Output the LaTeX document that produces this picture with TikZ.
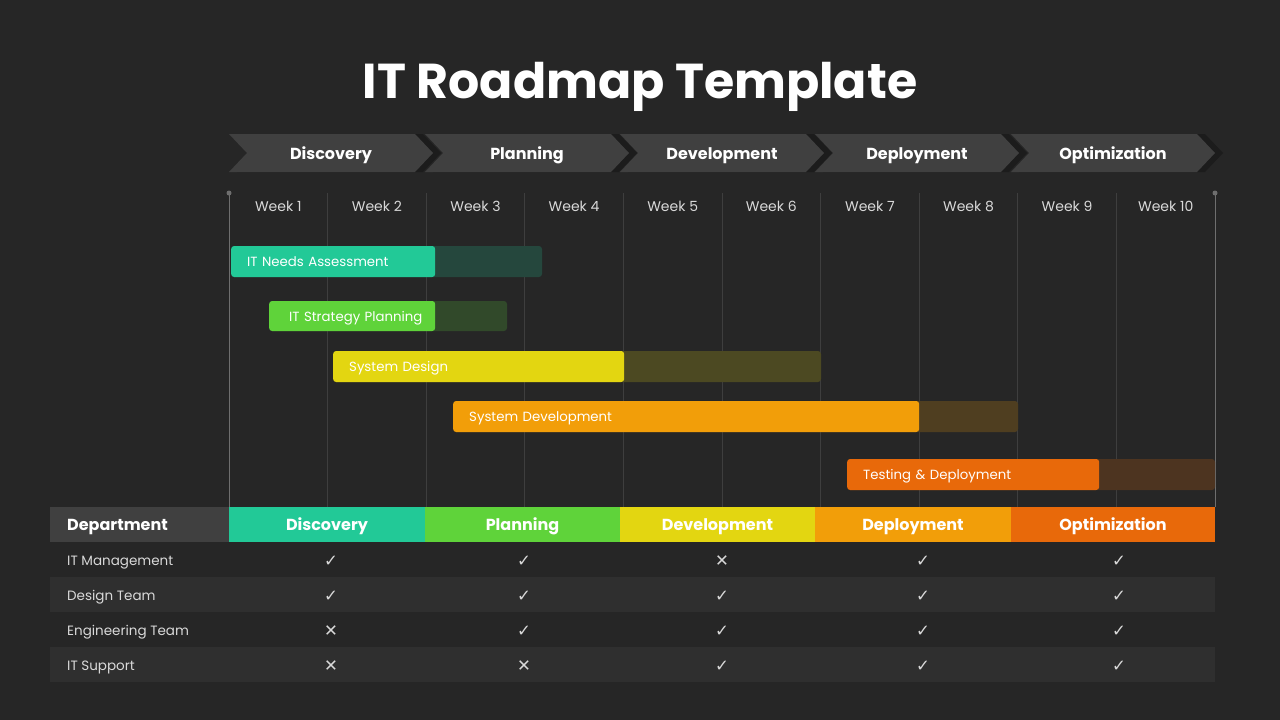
\documentclass[tikz,border=0pt]{standalone}
\usepackage{fontspec}
\setmainfont{Poppins}
\newfontfamily\symfont{DejaVu Sans}
\usetikzlibrary{positioning}
\definecolor{bgdark}{HTML}{262626}
\definecolor{chevgrey}{HTML}{404040}
\definecolor{chevshadow}{HTML}{1C1C1C}
\definecolor{rowgrey}{HTML}{2F2F2F}
\definecolor{deptgrey}{HTML}{404040}
\definecolor{gridgrey}{HTML}{3E3E3E}
\definecolor{edgegrey}{HTML}{6E6E6E}
\definecolor{softtext}{HTML}{D9D9D9}
\definecolor{teal}{HTML}{22C997}
\definecolor{leaf}{HTML}{5FD33A}
\definecolor{lemon}{HTML}{E3D611}
\definecolor{amber}{HTML}{F29E09}
\definecolor{rust}{HTML}{E8690A}
\newcommand{\yesmark}{{\symfont ✓}}
\newcommand{\nomark}{{\symfont ✕}}
\tikzset{
  title/.style={font=\fontsize{49}{56}\selectfont\bfseries, text=white,
                text height=41pt, text depth=10pt, inner sep=0pt},
  phaselbl/.style={font=\fontsize{16}{19}\selectfont\bfseries, text=white,
                   text height=16pt, text depth=3pt, inner sep=0pt},
  weeklbl/.style={font=\fontsize{14}{16}\selectfont, text=softtext,
                  text height=13pt, text depth=2.5pt, inner sep=0pt},
  gridline/.style={draw=gridgrey, line width=0.8pt},
  edgeline/.style={draw=edgegrey, line width=1pt},
  bar/.style={rounded corners=3pt, anchor=west, minimum height=31pt, inner xsep=16pt,
              inner ysep=0pt, align=left, font=\fontsize{13.3}{15}\selectfont, text=white,
              text height=13pt, text depth=2.5pt},
  ghost/.style={rounded corners=3pt},
  hdrcell/.style={minimum height=35pt, inner sep=0pt, font=\fontsize{16}{19}\selectfont\bfseries,
                  text=white, text height=14pt, text depth=3pt},
  rowlbl/.style={anchor=west, inner sep=0pt, font=\fontsize{13.5}{16}\selectfont, text=softtext,
                 text height=14pt, text depth=2.5pt},
  tick/.style={font=\fontsize{16.5}{19}\selectfont, text=softtext, inner sep=0pt, yshift=-1.5pt},
}
\begin{document}
\begin{tikzpicture}[x=1pt, y=-1pt]
    \fill[bgdark] (0,0) rectangle (1280,720);
    \useasboundingbox (0,0) rectangle (1280,720);

    \node[title] (ttl) at (640,83) {IT Roadmap Template};

    % phase chevrons
    \foreach \x/\nm/\lbl in {229/disc/Discovery, 425/plan/Planning, 620/dev/Development,
                             815/dep/Deployment, 1011/opt/Optimization} {
      \fill[chevshadow] (\x+8,134) -- ++(186,0) -- ++(18,19) -- ++(-18,19) -- ++(-186,0)
        -- ++(18,-19) -- cycle;
      \fill[chevgrey] (\x,134) -- ++(186,0) -- ++(18,19) -- ++(-18,19) -- ++(-186,0)
        -- ++(18,-19) -- cycle;
      \node[phaselbl] (ph-\nm) at (\x+102,153) {\lbl};
    }

    % week grid
    \foreach \i in {1,...,9}
      \draw[gridline] (229+98.6*\i,193) -- (229+98.6*\i,507);
    \draw[edgeline] (229,193) -- (229,507);
    \draw[edgeline] (1215,193) -- (1215,507);
    \fill[edgegrey] (229,193) circle (2.5);
    \fill[edgegrey] (1215,193) circle (2.5);
    \foreach \i in {1,...,10}
      \node[weeklbl] (wk\i) at (229+98.6*\i-49.3,206) {Week \i};

    % task bars
    \fill[ghost, teal!20!bgdark] (231,246) rectangle (542,277);
    \node[bar, fill=teal, text width=172pt] (b-assess) at (231,261.5) {IT Needs Assessment};
    \fill[ghost, leaf!20!bgdark] (269,301) rectangle (507,331);
    \node[bar, fill=leaf, minimum height=30pt, inner xsep=20pt, text width=126pt]
      (b-strat) at (269,316) {\mbox{IT Strategy Planning}};
    \fill[ghost, lemon!20!bgdark] (333,351) rectangle (821,382);
    \node[bar, fill=lemon, text width=259pt] (b-design) at (333,366.5) {System Design};
    \fill[ghost, amber!20!bgdark] (453,401) rectangle (1018,432);
    \node[bar, fill=amber, text width=434pt] (b-build) at (453,416.5) {System Development};
    \fill[ghost, rust!20!bgdark] (847,459) rectangle (1215,490);
    \node[bar, fill=rust, text width=220pt] (b-test) at (847,474.5) {Testing \& Deployment};

    % department table
    \fill[rowgrey] (50,577) rectangle (1215,612);
    \fill[rowgrey] (50,647) rectangle (1215,682);
    \node[hdrcell, fill=deptgrey, anchor=west, minimum width=179pt, text width=179pt, align=left]
      (h-dept) at (50,524.5) {\hspace*{17pt}Department};
    \node[hdrcell, fill=teal, minimum width=196pt] (h-disc) at (327,524.5) {Discovery};
    \node[hdrcell, fill=leaf, minimum width=195pt] (h-plan) at (522.5,524.5) {Planning};
    \node[hdrcell, fill=lemon, minimum width=195pt] (h-dev) at (717.5,524.5) {Development};
    \node[hdrcell, fill=amber, minimum width=196pt] (h-dep) at (913,524.5) {Deployment};
    \node[hdrcell, fill=rust, minimum width=204pt] (h-opt) at (1113,524.5) {Optimization};

    \foreach \y/\lbl/\a/\b/\c/\d/\e [count=\r] in {
        560/IT Management/\yesmark/\yesmark/\nomark/\yesmark/\yesmark,
        594.5/Design Team/\yesmark/\yesmark/\yesmark/\yesmark/\yesmark,
        629.5/Engineering Team/\nomark/\yesmark/\yesmark/\yesmark/\yesmark,
        664.5/IT Support/\nomark/\nomark/\yesmark/\yesmark/\yesmark} {
      \node[rowlbl] (r\r) at (67,\y) {\lbl};
      \node[tick] (m\r-1) at (331,\y) {\a};
      \node[tick] (m\r-2) at (524,\y) {\b};
      \node[tick] (m\r-3) at (722,\y) {\c};
      \node[tick] (m\r-4) at (923,\y) {\d};
      \node[tick] (m\r-5) at (1119,\y) {\e};
    }
  \end{tikzpicture}
\end{document}
